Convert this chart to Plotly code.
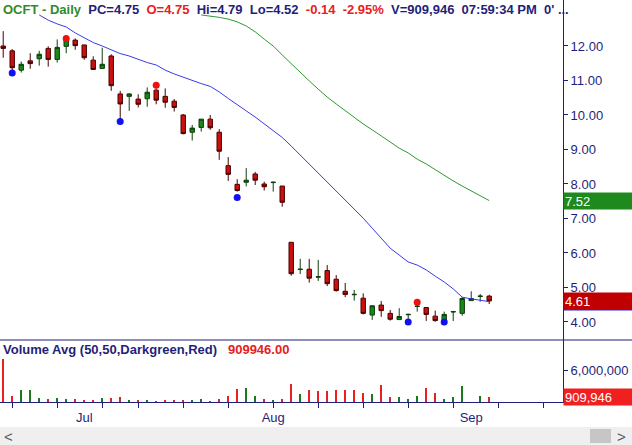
import plotly.graph_objects as go

# Daily bars, OCFT, Jun 18 - Sep 3 2021
dates = [
    "2021-06-18", "2021-06-21", "2021-06-22", "2021-06-23", "2021-06-24", "2021-06-25",
    "2021-06-28", "2021-06-29", "2021-06-30", "2021-07-01", "2021-07-02",
    "2021-07-06", "2021-07-07", "2021-07-08", "2021-07-09",
    "2021-07-12", "2021-07-13", "2021-07-14", "2021-07-15", "2021-07-16",
    "2021-07-19", "2021-07-20", "2021-07-21", "2021-07-22", "2021-07-23",
    "2021-07-26", "2021-07-27", "2021-07-28", "2021-07-29", "2021-07-30",
    "2021-08-02", "2021-08-03", "2021-08-04", "2021-08-05", "2021-08-06",
    "2021-08-09", "2021-08-10", "2021-08-11", "2021-08-12", "2021-08-13",
    "2021-08-16", "2021-08-17", "2021-08-18", "2021-08-19", "2021-08-20",
    "2021-08-23", "2021-08-24", "2021-08-25", "2021-08-26", "2021-08-27",
    "2021-08-30", "2021-08-31", "2021-09-01", "2021-09-02", "2021-09-03",
]
opens = [12.00, 11.86, 11.30, 11.57, 11.63, 11.93, 11.61, 11.99, 12.17, 12.03, 11.59,
         11.35, 11.71, 10.61, 10.54, 10.46, 10.47, 10.72, 10.54, 10.40,
         10.00, 9.50, 9.64, 9.88, 9.50, 8.53, 7.99, 8.05, 8.29, 8.00,
         8.04, 7.94, 6.31, 5.52, 5.53, 5.30, 5.49, 5.24, 4.89, 4.79,
         4.69, 4.20, 4.49, 4.25, 4.07, 4.21, 4.45, 4.42, 4.17, 4.04,
         4.29, 4.25, 4.62, 4.74, 4.75]
highs = [12.43, 11.91, 11.55, 11.79, 11.86, 11.99, 12.19, 12.27, 12.22, 12.03, 11.70,
         11.95, 11.76, 10.70, 10.63, 10.60, 10.80, 10.77, 10.77, 10.46,
         10.03, 9.71, 9.88, 10.00, 9.59, 8.78, 8.14, 8.46, 8.35, 8.07,
         8.07, 7.94, 6.31, 5.83, 5.83, 5.80, 5.65, 5.36, 5.13, 4.93,
         4.83, 4.47, 4.61, 4.35, 4.40, 4.24, 4.49, 4.42, 4.33, 4.30,
         4.32, 4.72, 4.89, 4.81, 4.79]
lows = [11.66, 11.30, 11.23, 11.34, 11.43, 11.40, 11.52, 11.79, 11.89, 11.60, 11.32,
        11.35, 10.70, 9.88, 10.12, 10.22, 10.24, 10.31, 10.21, 10.10,
        9.44, 9.26, 9.52, 9.57, 8.70, 8.09, 7.78, 7.93, 7.97, 7.81,
        7.78, 7.34, 5.34, 5.39, 5.14, 5.19, 5.04, 4.88, 4.72, 4.62,
        4.22, 4.06, 4.15, 4.04, 4.06, 4.08, 4.30, 4.03, 4.01, 4.04,
        4.03, 4.18, 4.62, 4.59, 4.52]
closes = [11.93, 11.37, 11.47, 11.49, 11.76, 11.61, 11.96, 12.20, 12.01, 11.66, 11.32,
          11.47, 10.85, 10.32, 10.61, 10.31, 10.66, 10.43, 10.37, 10.22,
          9.46, 9.62, 9.88, 9.63, 8.95, 8.28, 7.81, 8.11, 8.11, 7.92,
          8.05, 7.47, 5.40, 5.53, 5.27, 5.31, 5.11, 4.91, 4.80, 4.80,
          4.25, 4.47, 4.33, 4.08, 4.16, 4.22, 4.46, 4.22, 4.04, 4.22,
          4.30, 4.68, 4.68, 4.75, 4.61]
volume = [8210000, 1150000, 2310000, 2310000, 770000, 580000, 770000, 580000, 580000, 380000, 380000,
          770000, 770000, 960000, 380000, 380000, 250000, 190000, 380000, 380000,
          380000, 440000, 580000, 190000, 580000, 1150000, 2560000, 2750000, 1150000, 630000,
          380000, 630000, 3520000, 1600000, 2310000, 2120000, 2120000, 2250000, 2370000, 2370000,
          1790000, 1600000, 3330000, 1020000, 1020000, 580000, 1210000, 2750000, 1790000, 630000,
          1020000, 3130000, 0, 1150000, 909946]
vol_up = [0, 0, 1, 1, 1, 0, 1, 1, 0, 0, 0,
          1, 0, 0, 1, 0, 1, 0, 0, 0,
          0, 1, 1, 0, 0, 0, 0, 1, 1, 0,
          1, 0, 0, 1, 0, 0, 0, 0, 0, 0,
          0, 1, 0, 0, 1, 1, 1, 0, 0, 1,
          1, 1, 1, 1, 0]
sma20 = [None, None, None, None, 12.90, 12.75, 12.64, 12.55, 12.38, 12.23, 12.10,
         12.00, 11.88, 11.78, 11.71, 11.61, 11.52, 11.45, 11.30, 11.19,
         11.09, 10.99, 10.91, 10.83, 10.67, 10.48, 10.29, 10.12, 9.94, 9.75,
         9.55, 9.35, 9.10, 8.84, 8.55, 8.32, 8.06, 7.80, 7.54, 7.28,
         7.01, 6.72, 6.43, 6.14, 5.94, 5.74, 5.65, 5.51, 5.33, 5.16,
         4.96, 4.72, 4.67, 4.64, 4.59]
sma50 = [None] * 22 + [12.90, 12.87, 12.83, 12.78, 12.70, 12.58, 12.41, 12.20,
                       12.00, 11.74, 11.48, 11.22, 10.99, 10.75, 10.52, 10.32, 10.12, 9.93,
                       9.74, 9.57, 9.39, 9.22, 9.04, 8.90, 8.72, 8.58, 8.41, 8.26,
                       8.09, 7.94, 7.80, 7.67, 7.52]
low_idx = [1, 13, 26, 45, 49]
low_dots = [11.22, 9.81, 7.61, 4.00, 4.00]
high_idx = [7, 17, 46]
high_dots = [12.22, 10.86, 4.57]

price_ticks = [4, 5, 6, 7, 8, 9, 10, 11, 12]
vol_ticks = [6000000]
week_ticks = ["2021-06-21", "2021-06-28", "2021-07-06", "2021-07-12", "2021-07-19",
              "2021-07-26", "2021-08-02", "2021-08-09", "2021-08-16", "2021-08-23",
              "2021-08-30", "2021-09-06", "2021-09-13"]
month_ticks = ["2021-07-01", "2021-08-02", "2021-09-01"]
month_labels = ["Jul", "Aug", "Sep"]

NAVY = "#1f1f7a"
FONT = "Liberation Sans"
W, H = 632, 445
XR = 563 / W  # right edge of plot area (price scale line)

fig = go.Figure()

fig.add_trace(go.Candlestick(
    x=dates, open=opens, high=highs, low=lows, close=closes,
    increasing=dict(line=dict(color="#0d3d0d", width=1), fillcolor="#168a16"),
    decreasing=dict(line=dict(color="#4a0000", width=1), fillcolor="#cc1010"),
    whiskerwidth=0, showlegend=False,
))
fig.add_trace(go.Scatter(x=dates, y=sma20, mode="lines",
                         line=dict(color="#3a3ae8", width=1), showlegend=False))
fig.add_trace(go.Scatter(x=dates, y=sma50, mode="lines",
                         line=dict(color="#2e9a2e", width=1), showlegend=False))
fig.add_trace(go.Scatter(x=[dates[i] for i in low_idx], y=low_dots, mode="markers",
                         marker=dict(color="#1010f0", size=7), showlegend=False))
fig.add_trace(go.Scatter(x=[dates[i] for i in high_idx], y=high_dots, mode="markers",
                         marker=dict(color="#f01010", size=7), showlegend=False))

fig.add_trace(go.Bar(
    x=dates, y=volume, xaxis="x2", yaxis="y2",
    marker=dict(color=["#1a7a1a" if u else "#e82020" for u in vol_up], line=dict(width=0)),
    width=0.22 * 86400000, showlegend=False,
))

breaks = [dict(bounds=["sat", "mon"]), dict(values=["2021-07-05"])]
xrange = ["2021-06-17 15:27", "2021-09-15 04:48"]

fig.update_layout(
    width=W, height=H,
    margin=dict(l=0, r=0, t=0, b=0),
    paper_bgcolor="white", plot_bgcolor="white",
    font=dict(family=FONT, size=13, color=NAVY),
    xaxis=dict(domain=[0, XR], range=xrange, rangebreaks=breaks, anchor="y",
               rangeslider=dict(visible=False), showticklabels=False,
               showgrid=False, zeroline=False, ticks=""),
    yaxis=dict(domain=[105 / H, 1], range=[3.478, 13.333], side="right", anchor="x",
               tickmode="array", tickvals=price_ticks, tickformat=".2f",
               ticks="outside", ticklen=4, tickcolor=NAVY, showline=True,
               linecolor=NAVY, showgrid=False, zeroline=False,
               tickfont=dict(color=NAVY, size=13)),
    xaxis2=dict(domain=[0, XR], range=xrange, rangebreaks=breaks, anchor="y2",
                tickmode="array", tickvals=month_ticks, ticktext=month_labels,
                ticks="", showline=True, linecolor=NAVY, showgrid=False, zeroline=False,
                minor=dict(tickmode="array", tickvals=week_ticks, ticks="outside",
                           ticklen=5, tickcolor=NAVY, showgrid=False),
                tickfont=dict(color=NAVY, size=13), ticklabelstandoff=3),
    yaxis2=dict(domain=[43 / H, 105 / H], range=[0, 11920000], side="right", anchor="x2",
                tickmode="array", tickvals=vol_ticks, tickformat=",d",
                ticks="outside", ticklen=4, tickcolor=NAVY, showline=True,
                linecolor=NAVY, showgrid=False, zeroline=False,
                tickfont=dict(color=NAVY, size=13)),
    bargap=0,
)

# panel separators and the scrollbar strip
fig.add_shape(type="line", xref="paper", yref="paper", x0=0, x1=1, y0=105 / H, y1=105 / H,
              line=dict(color=NAVY, width=1))
fig.add_shape(type="line", xref="paper", yref="paper", x0=XR, x1=1, y0=43 / H, y1=43 / H,
              line=dict(color=NAVY, width=1))
fig.add_shape(type="rect", xref="paper", yref="paper", x0=0, x1=1, y0=0, y1=18 / H,
              fillcolor="#efefef", line=dict(width=0), layer="below")
fig.add_shape(type="rect", xref="paper", yref="paper", x0=590 / W, x1=611 / W,
              y0=2 / H, y1=16 / H, fillcolor="#c6c6c6", line=dict(width=0))

RED = "#e8201c"
GREEN = "#2e8b2e"
header = (f'<b><span style="color:{GREEN}">OCFT - Daily</span>&nbsp;&nbsp;'
          f'<span style="color:{NAVY}">PC=4.75</span>&nbsp;&nbsp;'
          f'<span style="color:{RED}">O=4.75</span>&nbsp;&nbsp;'
          f'<span style="color:{NAVY}">Hi=4.79&nbsp;&nbsp;Lo=4.52</span>&nbsp;&nbsp;'
          f'<span style="color:{RED}">-0.14&nbsp;&nbsp;-2.95%</span>&nbsp;&nbsp;'
          f'<span style="color:{NAVY}">V=909,946&nbsp;&nbsp;07:59:34 PM&nbsp;&nbsp;0\' ...</span></b>')
vol_title = (f'<b><span style="color:{NAVY}">Volume Avg (50,50,Darkgreen,Red)</span>'
             f'&nbsp;&nbsp;&nbsp;<span style="color:{RED}">909946.00</span></b>')

annos = [
    dict(xref="paper", yref="paper", x=0.002, y=1, xanchor="left", yanchor="top",
         text=header, showarrow=False, font=dict(size=13)),
    dict(xref="paper", yref="paper", x=0.002, y=(H - 349) / H, xanchor="left",
         yanchor="middle", text=vol_title, showarrow=False, font=dict(size=13)),
    dict(xref="paper", yref="y", x=XR, y=sma20[-1], xanchor="left", yanchor="middle",
         text=f"{sma20[-1]:.2f}", showarrow=False, bgcolor="#2a2ae0", width=66, height=14,
         align="left", borderpad=1, font=dict(color="white", size=13)),
    dict(xref="paper", yref="y", x=XR, y=sma50[-1], xanchor="left", yanchor="middle",
         text=f"{sma50[-1]:.2f}", showarrow=False, bgcolor="#1e8a1e", width=66, height=14,
         align="left", borderpad=1, font=dict(color="white", size=13)),
    dict(xref="paper", yref="y", x=XR, y=closes[-1], xanchor="left", yanchor="middle",
         text=f"{closes[-1]:.2f}", showarrow=False, bgcolor="#c00000", width=66, height=14,
         align="left", borderpad=1, font=dict(color="white", size=13)),
    dict(xref="paper", yref="y2", x=XR, y=volume[-1], xanchor="left", yanchor="middle",
         text=f"{volume[-1]:,}", showarrow=False, bgcolor="#f02020", width=66, height=14,
         align="left", borderpad=1, font=dict(color="white", size=13)),
    dict(xref="paper", yref="paper", x=8 / W, y=9 / H, xanchor="center", yanchor="middle",
         text="&lt;", showarrow=False, font=dict(color="#555555", size=15)),
    dict(xref="paper", yref="paper", x=621 / W, y=9 / H, xanchor="center", yanchor="middle",
         text="&gt;", showarrow=False, font=dict(color="#555555", size=15)),
]
fig.update_layout(annotations=annos)

fig.write_html("out.html", config={"displayModeBar": False},
               post_script="document.body.style.margin='0';")
